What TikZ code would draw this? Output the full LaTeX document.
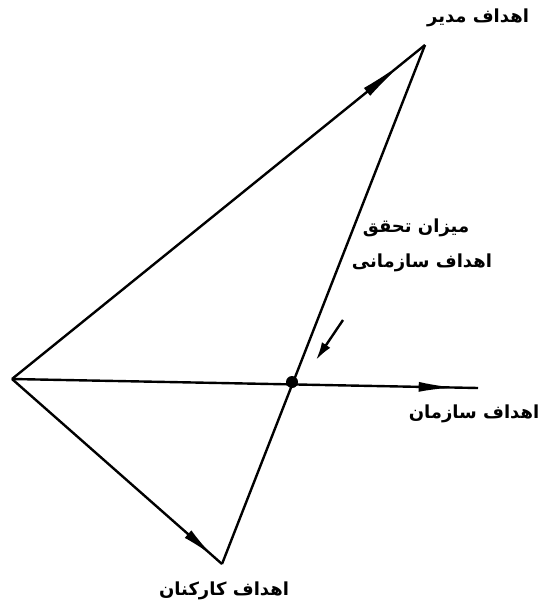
\documentclass[tikz,border=0pt]{standalone}
\usepackage{fontspec}
\newfontfamily\farsi[Script=Arabic]{DejaVu Sans}
\TeXXeTstate=1
\usetikzlibrary{arrows.meta,decorations.markings}
\newcommand{\fa}[1]{{\farsi\bfseries\beginR #1\endR}}
\begin{document}
\begin{tikzpicture}[x=0.5pt,y=-0.5pt,
    edge/.style={line width=1.2pt},
    tip/.style 2 args={postaction={decorate},decoration={markings,
        mark=at position #1 with {\arrow{Latex[length=#2,width=5pt]}}}},
    lbl/.style={font=\fontsize{9}{11}\selectfont, inner sep=0pt}
]
    \useasboundingbox (0,0) rectangle (544,608);
    % vertices
    \coordinate (O) at (12,379);
    \coordinate (M) at (425,45);
    \coordinate (E) at (222,564);
    \coordinate (S) at (478,388);
    \node[circle, fill=black, inner sep=0pt, minimum size=6pt] (X) at (292,382) {};
    % sides
    \draw[edge, tip={0.95}{24pt}] (O) -- (M);
    \draw[edge, tip={0.96}{17pt}] (O) -- (E);
    \draw[edge, tip={0.95}{18pt}] (O) -- (S);
    \draw[edge] (M) -- (E);
    % pointer to the crossing
    \coordinate (P) at (343,320);
    \draw[edge, -{Latex[length=9pt,width=5pt]}] (P) -- (316,360);
    % labels
    \node[lbl] (lm) at (478,18) {\fa{اهداف مدیر}};
    \node[lbl] (lq1) at (416,228) {\fa{میزان تحقق}};
    \node[lbl] (lq2) at (422,263) {\fa{اهداف سازمانی}};
    \node[lbl] (ls) at (474,414) {\fa{اهداف سازمان}};
    \node[lbl] (le) at (224,591) {\fa{اهداف کارکنان}};
\end{tikzpicture}
\end{document}
